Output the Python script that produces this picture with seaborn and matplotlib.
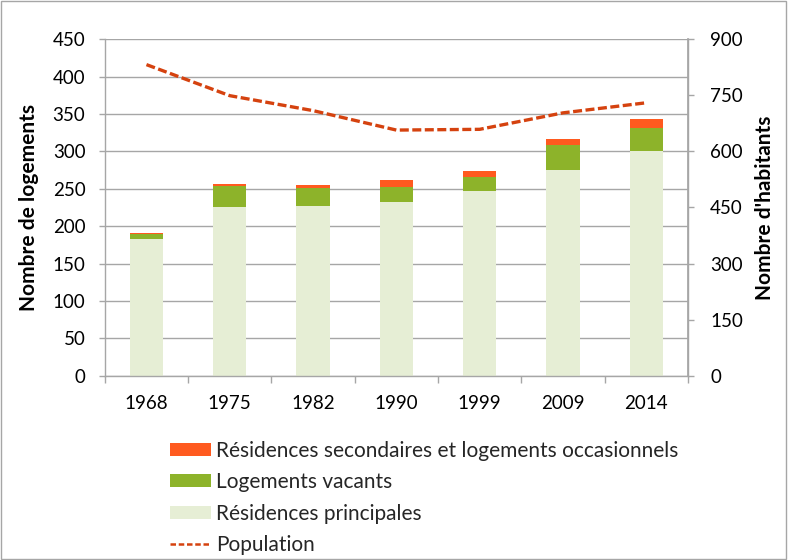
import matplotlib
matplotlib.use("Agg")
import matplotlib.pyplot as plt
import seaborn as sns
import numpy as np
import pandas as pd
from matplotlib.patches import Patch, Rectangle
from matplotlib.lines import Line2D

years = ["1968", "1975", "1982", "1990", "1999", "2009", "2014"]
principales = [183, 226, 227, 232, 247, 275, 300]
vacants = [7, 28, 24, 20, 19, 34, 31]
secondaires = [1, 2, 4, 10, 8, 7, 12]
population = [832, 749, 709, 657, 659, 703, 730]

c_sec = "#FF5A1F"
c_vac = "#8DB32A"
c_pri = "#E6EED5"
c_pop = "#D5420F"
c_axis = "#A6A6A6"

sns.set_theme(style="white")
plt.rcParams['font.family'] = ['Lato', 'DejaVu Sans']

df = pd.DataFrame({"year": years, "pri": principales, "vac": vacants,
                   "sec": secondaires, "pop": population})
df["pv"] = df["pri"] + df["vac"]
df["tot"] = df["pv"] + df["sec"]

fig = plt.figure(figsize=(7.88, 5.6), dpi=100)
ax = fig.add_axes([0.133, 0.329, 0.740, 0.601])

w = 0.4
sns.barplot(data=df, x="year", y="tot", color=c_sec, width=w, ax=ax, saturation=1, linewidth=0)
sns.barplot(data=df, x="year", y="pv", color=c_vac, width=w, ax=ax, saturation=1, linewidth=0)
sns.barplot(data=df, x="year", y="pri", color=c_pri, width=w, ax=ax, saturation=1, linewidth=0)

ax.set_ylim(0, 450)
ax.set_yticks(range(0, 451, 50))
ax.set_xlim(-0.5, 6.5)
ax.yaxis.grid(True, color=c_axis, linewidth=1)
ax.set_axisbelow(True)
ax.set_xlabel("")
ax.set_ylabel("Nombre de logements", fontsize=15, fontweight="bold", color="black")
ax.yaxis.set_label_coords(-0.113, 0.5)
ax.spines["top"].set_visible(False)
for s in ["left", "bottom", "right"]:
    ax.spines[s].set_color(c_axis)
    ax.spines[s].set_linewidth(1)
ax.tick_params(axis="y", labelsize=13.5, colors="black", length=4, color=c_axis,
               width=1, pad=10, left=True)
ax.tick_params(axis="x", labelsize=13.5, colors="black", length=0, pad=14)
ax.set_xticks(np.arange(-0.5, 7, 1), minor=True)
ax.tick_params(axis="x", which="minor", length=5, color=c_axis, width=1, bottom=True)

ax2 = ax.twinx()
sns.lineplot(data=df, x="year", y="pop", ax=ax2, color=c_pop, linewidth=2.4,
             linestyle=(0, (2.7, 1.05)), sort=False)
ax2.set_ylim(0, 900)
ax2.set_yticks(range(0, 901, 150))
ax2.set_ylabel("Nombre d'habitants", fontsize=15, fontweight="bold", color="black")
ax2.yaxis.set_label_coords(1.115, 0.5)
ax2.tick_params(axis="y", labelsize=13.5, colors="black", length=4, color=c_axis,
                width=1, pad=12)
for s in ["top", "left", "bottom"]:
    ax2.spines[s].set_visible(False)
ax2.spines["right"].set_color(c_axis)
ax2.set_xlim(-0.5, 6.5)
ax2.grid(False)

handles = [Patch(facecolor=c_sec, edgecolor="none"),
           Patch(facecolor=c_vac, edgecolor="none"),
           Patch(facecolor=c_pri, edgecolor="none"),
           Line2D([0], [0], color=c_pop, linewidth=1.8, linestyle=(0, (2.2, 1.1)))]
labels = ["Résidences secondaires et logements occasionnels",
          "Logements vacants", "Résidences principales", "Population"]
fig.legend(handles, labels, loc="upper left", bbox_to_anchor=(0.2157, 0.213),
           frameon=False, fontsize=15, handlelength=1.97, handleheight=0.56,
           handletextpad=0.24, labelspacing=0.55, borderaxespad=0, borderpad=0)

fig.patches.append(Rectangle((0.001, 0.001), 0.996, 0.997, transform=fig.transFigure,
                             fill=False, edgecolor=c_axis, linewidth=1))

fig.savefig("out.png", dpi=100)
